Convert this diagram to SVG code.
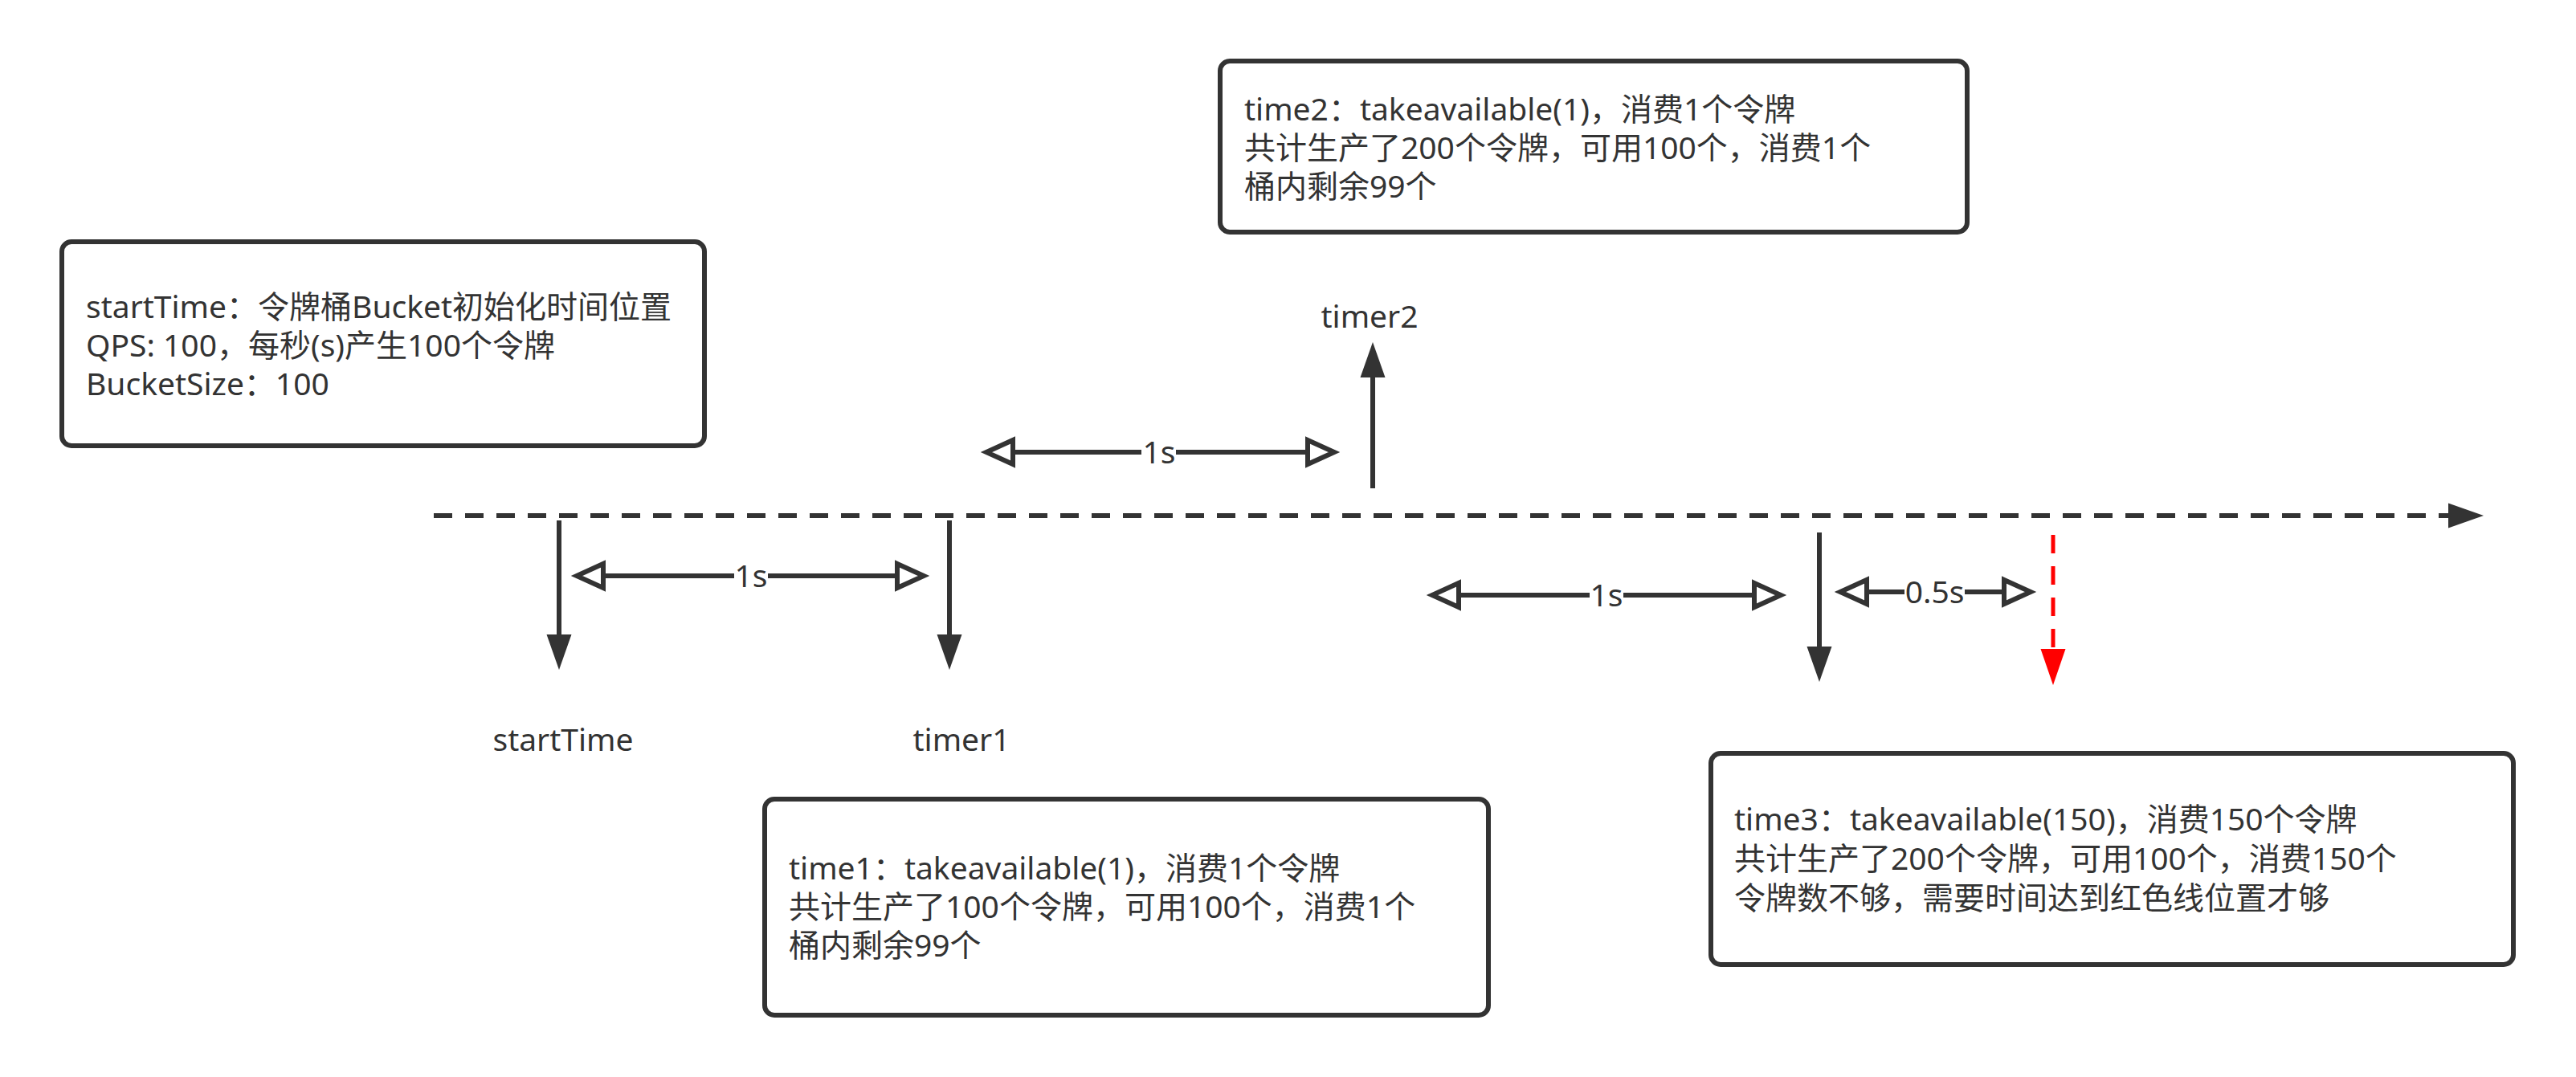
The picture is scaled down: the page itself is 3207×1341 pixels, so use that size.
<svg xmlns="http://www.w3.org/2000/svg" width="3207" height="1341" viewBox="0 0 3207 1341">
  <style>
    .box { fill: #ffffff; stroke: #333333; stroke-width: 6; }
    .txt { font-family: 'Noto Sans', 'Noto Sans CJK SC', sans-serif; font-size: 39px; fill: #333333; }
    .mid { text-anchor: middle; }
    .line { stroke: #333333; stroke-width: 6; fill: none; }
    .dash { stroke-dasharray: 23 16; }
    .red { stroke: #ff0000; stroke-width: 5; fill: none; stroke-dasharray: 23 16; }
    .lblbg { fill: #ffffff; stroke: none; }
  </style>
  <defs>
    <marker id="filled" markerUnits="userSpaceOnUse" viewBox="0 0 50 40" markerWidth="50" markerHeight="40" refX="0" refY="20" orient="auto">
      <path d="M0,4.5 L44,20 L0,35.5 Z" fill="#333333"/>
    </marker>
    <marker id="filledRed" markerUnits="userSpaceOnUse" viewBox="0 0 50 40" markerWidth="50" markerHeight="40" refX="0" refY="20" orient="auto">
      <path d="M0,4.5 L45,20 L0,35.5 Z" fill="#ff0000"/>
    </marker>
    <marker id="open" markerUnits="userSpaceOnUse" viewBox="0 0 60 40" markerWidth="60" markerHeight="40" refX="5" refY="20" orient="auto-start-reverse">
      <path d="M5,5 L38,20 L5,35 Z" fill="#ffffff" stroke="#333333" stroke-width="6" stroke-linejoin="miter"/>
    </marker>
  </defs>
  <rect x="0" y="0" width="3207" height="1341" fill="#ffffff"/>

  <g id="connectors">
    <!-- timeline -->
    <line id="timeline" class="line dash" x1="540" y1="642" x2="3048" y2="642" marker-end="url(#filled)"/>
    <!-- time markers -->
    <line id="arrow-startTime" class="line" x1="696" y1="648" x2="696" y2="790" marker-end="url(#filled)"/>
    <line id="arrow-timer1" class="line" x1="1182" y1="648" x2="1182" y2="790" marker-end="url(#filled)"/>
    <line id="arrow-timer2" class="line" x1="1709" y1="608" x2="1709" y2="470" marker-end="url(#filled)"/>
    <line id="arrow-time3" class="line" x1="2265" y1="663" x2="2265" y2="805" marker-end="url(#filled)"/>
    <line id="arrow-red" class="red" x1="2556" y1="666" x2="2556" y2="808" marker-end="url(#filledRed)"/>
    <!-- interval arrows -->
    <g id="interval-1">
      <line class="line" x1="751" y1="717" x2="1117" y2="717" marker-start="url(#open)" marker-end="url(#open)"/>
      <rect class="lblbg" x="914" y="707" width="42" height="20"/>
      <text class="txt mid" x="935" y="731">1s</text>
    </g>
    <g id="interval-2">
      <line class="line" x1="1261" y1="563" x2="1628" y2="563" marker-start="url(#open)" marker-end="url(#open)"/>
      <rect class="lblbg" x="1421" y="553" width="43" height="20"/>
      <text class="txt mid" x="1443" y="577">1s</text>
    </g>
    <g id="interval-3">
      <line class="line" x1="1816" y1="741" x2="2184" y2="741" marker-start="url(#open)" marker-end="url(#open)"/>
      <rect class="lblbg" x="1979" y="731" width="42" height="20"/>
      <text class="txt mid" x="2000" y="755">1s</text>
    </g>
    <g id="interval-4">
      <line class="line" x1="2324" y1="737" x2="2495" y2="737" marker-start="url(#open)" marker-end="url(#open)"/>
      <rect class="lblbg" x="2371" y="727" width="75" height="20"/>
      <text class="txt mid" x="2408.5" y="751">0.5s</text>
    </g>
  </g>

  <g id="node-startTime-info">
    <rect class="box" x="77" y="301" width="800" height="254" rx="12" ry="12"/>
    <text class="txt" x="107" y="396">startTime：令牌桶Bucket初始化时间位置</text>
    <text class="txt" x="107" y="444">QPS: 100，每秒(s)产生100个令牌</text>
    <text class="txt" x="107" y="492">BucketSize：100</text>
  </g>

  <g id="node-time2-info">
    <rect class="box" x="1519" y="76" width="930" height="213" rx="12" ry="12"/>
    <text class="txt" x="1549" y="150">time2：takeavailable(1)，消费1个令牌</text>
    <text class="txt" x="1549" y="198">共计生产了200个令牌，可用100个，消费1个</text>
    <text class="txt" x="1549" y="246">桶内剩余99个</text>
  </g>

  <g id="node-time1-info">
    <rect class="box" x="952" y="995" width="901" height="269" rx="12" ry="12"/>
    <text class="txt" x="982" y="1095">time1：takeavailable(1)，消费1个令牌</text>
    <text class="txt" x="982" y="1143">共计生产了100个令牌，可用100个，消费1个</text>
    <text class="txt" x="982" y="1191">桶内剩余99个</text>
  </g>

  <g id="node-time3-info">
    <rect class="box" x="2130" y="938" width="999" height="263" rx="12" ry="12"/>
    <text class="txt" x="2159" y="1034">time3：takeavailable(150)，消费150个令牌</text>
    <text class="txt" x="2159" y="1083">共计生产了200个令牌，可用100个，消费150个</text>
    <text class="txt" x="2159" y="1132">令牌数不够，需要时间达到红色线位置才够</text>
  </g>

  <g id="node-label-startTime">
    <text class="txt mid" x="701" y="935">startTime</text>
  </g>
  <g id="node-label-timer1">
    <text class="txt mid" x="1197" y="935">timer1</text>
  </g>
  <g id="node-label-timer2">
    <text class="txt mid" x="1705" y="408">timer2</text>
  </g>
</svg>
